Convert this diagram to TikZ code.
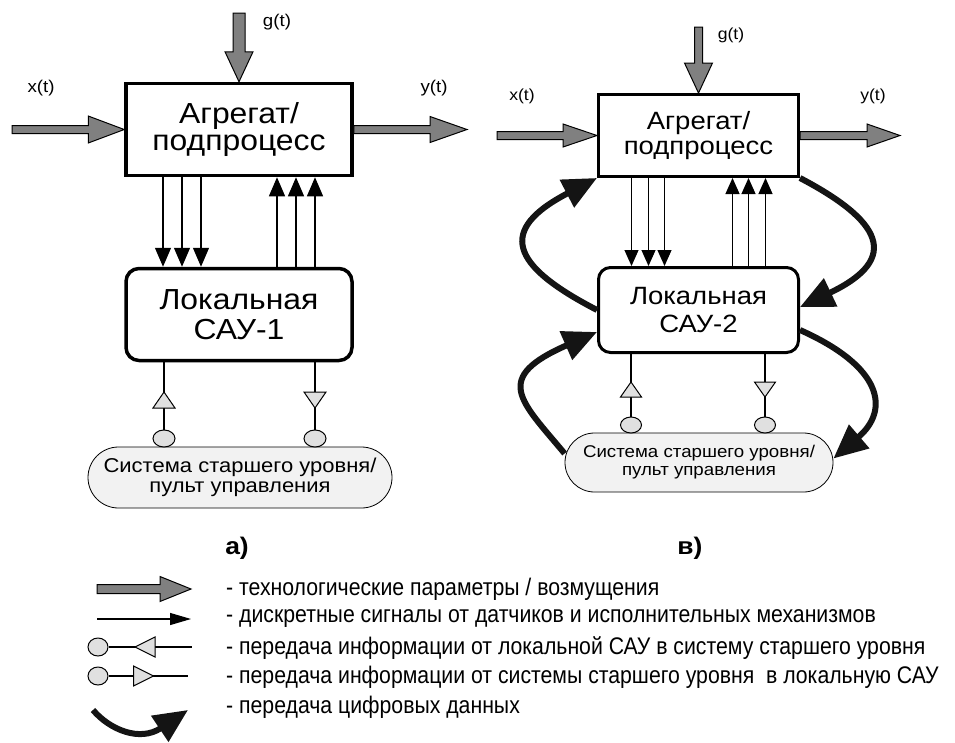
\documentclass[tikz,border=0pt]{standalone}
\usepackage{fontspec}
\setmainfont{Liberation Sans}[FakeStretch=1.1]
\newfontfamily\narrowfont{Liberation Sans}[FakeStretch=0.885]
\usetikzlibrary{arrows.meta,calc,shapes.geometric,shapes.misc}
\definecolor{bigfill}{HTML}{808080}
\definecolor{lightfill}{HTML}{E0E0E0}
\definecolor{sysfill}{HTML}{F2F2F2}
\definecolor{digcol}{HTML}{141414}
\tikzset{
  fatarrow/.style n args={3}{to path={
    ($(\tikztostart)!#1!90:(\tikztotarget)$)
    -- ($($(\tikztotarget)!#3!(\tikztostart)$)!#1!90:(\tikztotarget)$)
    -- ($($(\tikztotarget)!#3!(\tikztostart)$)!#2!90:(\tikztotarget)$)
    -- (\tikztotarget)
    -- ($($(\tikztotarget)!#3!(\tikztostart)$)!#2!-90:(\tikztotarget)$)
    -- ($($(\tikztotarget)!#3!(\tikztostart)$)!#1!-90:(\tikztotarget)$)
    -- ($(\tikztostart)!#1!-90:(\tikztotarget)$)
    -- cycle}},
  bigst/.style={draw=black, line width=1pt, fill=bigfill, line join=miter},
  boxA/.style={draw, line width=3.5pt, fill=white, inner sep=0pt, align=center,
    minimum width=226pt, minimum height=92pt, font=\fontsize{29}{27}\selectfont},
  boxB/.style={draw, line width=3pt, fill=white, inner sep=0pt, align=center,
    minimum width=200pt, minimum height=82pt, font=\fontsize{25}{25}\selectfont},
  sysst/.style={draw, line width=0.8pt, fill=sysfill, rounded rectangle, inner sep=0pt, align=center},
  dotst/.style={draw, line width=1pt, fill=lightfill, ellipse, inner sep=0pt},
  trist/.style={draw=black, line width=1pt, fill=lightfill, line join=miter},
  pics/tri/.style 2 args={code={\draw[trist] (0,-#2/2) -- (#1/2,#2/2) -- (-#1/2,#2/2) -- cycle;}},
  sigA/.style={line width=1.2pt, -{Triangle[width=16pt,length=19pt]}},
  sigB/.style={line width=1.1pt, -{Triangle[width=14pt,length=16pt]}},
  thinln/.style={line width=1.3pt},
  dig/.style={line width=6pt, draw=digcol, -{Triangle[width=30pt,length=34pt]}},
  lbl/.style={inner sep=0pt, font=\fontsize{17}{17}\selectfont},
  legtext/.style={anchor=west, inner sep=0pt, font=\narrowfont\fontsize{24}{24}\selectfont},
  caplbl/.style={inner sep=0pt, font=\bfseries\fontsize{24}{24}\selectfont}
}
\begin{document}
\begin{tikzpicture}[x=1pt,y=-1pt]
\useasboundingbox (0,0) rectangle (955,742);

% ---------------- panel a ----------------
\node[boxA] (agg1) at (239,129.5) {Агрегат/\\подпроцесс};
\node[boxA, rounded corners=13pt, font=\fontsize{29}{30}\selectfont] (loc1) at (239,314.5) {Локальная\\САУ-1};
\node[sysst, minimum width=304pt, minimum height=61pt, font=\fontsize{20}{20}\selectfont] (sys1) at (240,477.5) {Система старшего уровня/\\пульт управления};
\node[dotst, minimum width=22pt, minimum height=17pt] (c1L) at (164,438.5) {};
\node[dotst, minimum width=22pt, minimum height=17pt] (c1R) at (315,438.5) {};

\coordinate (xs1) at (12,129.5);
\coordinate (gs1) at (239,13);
\coordinate (ye1) at (467,129.5);
\draw[bigst] (xs1) to[fatarrow={4pt}{13.5pt}{36pt}] (agg1.west);
\draw[bigst] (gs1) to[fatarrow={6pt}{14pt}{30pt}] (agg1.north);
\draw[bigst] (agg1.east) to[fatarrow={4pt}{13pt}{37pt}] (ye1);
\node[lbl] (xl1) at (41,88) {x(t)};
\node[lbl] (gl1) at (277,22) {g(t)};
\node[lbl] (yl1) at (434,88) {y(t)};

\foreach \dx/\nm in {-76/a,-57/b,-38/c}{
  \coordinate (d1\nm) at ($(agg1.south)+(\dx,0)$);
  \draw[sigA] (d1\nm) -- (d1\nm |- loc1.north);
}
\foreach \dx/\nm in {38/a,57/b,76/c}{
  \coordinate (u1\nm) at ($(loc1.north)+(\dx,0)$);
  \draw[sigA] (u1\nm) -- (u1\nm |- agg1.south);
}
\draw[thinln] (c1L.north) -- (c1L.north |- loc1.south);
\draw[thinln] (c1R.north) -- (c1R.north |- loc1.south);
\pic at (164,400) {tri={22}{16}};
\pic[rotate=180] at (315,400) {tri={22}{16}};
\node[caplbl] (capa) at (237,548) {а)};

% ---------------- panel b ----------------
\node[boxB] (agg2) at (698.5,135.5) {Агрегат/\\подпроцесс};
\node[boxB, rounded corners=12pt, minimum height=85pt, font=\fontsize{25}{28}\selectfont] (loc2) at (698.5,310) {Локальная\\САУ-2};
\node[sysst, minimum width=268pt, minimum height=59pt, font=\fontsize{17}{18}\selectfont] (sys2) at (699,462.5) {Система старшего уровня/\\пульт управления};
\node[dotst, minimum width=21pt, minimum height=16pt] (c2L) at (631,425) {};
\node[dotst, minimum width=21pt, minimum height=16pt] (c2R) at (765,425) {};

\coordinate (xs2) at (497,135.5);
\coordinate (gs2) at (698.5,27);
\coordinate (ye2) at (900,135.5);
\draw[bigst] (xs2) to[fatarrow={4pt}{11.5pt}{34pt}] (agg2.west);
\draw[bigst] (gs2) to[fatarrow={4pt}{14pt}{30pt}] (agg2.north);
\draw[bigst] (agg2.east) to[fatarrow={4pt}{11.5pt}{33pt}] (ye2);
\node[lbl, font=\fontsize{16}{16}\selectfont] (xl2) at (522,96) {x(t)};
\node[lbl, font=\fontsize{16}{16}\selectfont] (gl2) at (731,35) {g(t)};
\node[lbl, font=\fontsize{16}{16}\selectfont] (yl2) at (873,96) {y(t)};

\foreach \dx/\nm in {-67/a,-50/b,-34/c}{
  \coordinate (d2\nm) at ($(agg2.south)+(\dx,0)$);
  \draw[sigB] (d2\nm) -- (d2\nm |- loc2.north);
}
\foreach \dx/\nm in {34/a,50/b,67/c}{
  \coordinate (u2\nm) at ($(loc2.north)+(\dx,0)$);
  \draw[sigB] (u2\nm) -- (u2\nm |- agg2.south);
}
\draw[thinln] (c2L.north) -- (c2L.north |- loc2.south);
\draw[thinln] (c2R.north) -- (c2R.north |- loc2.south);
\pic at (631,389.5) {tri={21}{15}};
\pic[rotate=180] at (765,389.5) {tri={21}{15}};

\draw[dig] (loc2.west) .. controls (510,265) and (497,230) .. (agg2.south west);
\draw[dig] ([yshift=9pt]sys2.west) .. controls (520,400) and (492,378) .. ([yshift=-22pt]loc2.west);
\draw[dig] (agg2.south east) .. controls (880,220) and (903,258) .. ([yshift=3pt]loc2.east);
\draw[dig] ([yshift=-20pt]loc2.east) .. controls (883,367) and (890,410) .. ([yshift=4pt]sys2.east);
\node[caplbl] (capb) at (690,548) {в)};

% ---------------- legend ----------------
\coordinate (l1a) at (97,589);  \coordinate (l1b) at (191,589);
\coordinate (l2a) at (97,619);  \coordinate (l2b) at (191,619);
\coordinate (l3b) at (192,647);
\coordinate (l4b) at (188,676);
\coordinate (l5a) at (93,710);  \coordinate (l5b) at (188,710);
\draw[bigst] (l1a) to[fatarrow={4.5pt}{12.5pt}{31pt}] (l1b);
\draw[line width=1.2pt, -{Triangle[width=12pt,length=21pt]}] (l2a) -- (l2b);
\node[dotst, minimum width=20pt, minimum height=18pt] (lc3) at (98,647) {};
\node[dotst, minimum width=20pt, minimum height=18pt] (lc4) at (98,676) {};
\draw[thinln] (lc3.east) -- (l3b);
\draw[thinln] (lc4.east) -- (l4b);
\pic[rotate=90] at (145,647) {tri={20}{20}};
\pic[rotate=-90] at (143.5,676) {tri={20}{20}};
\draw[dig] (l5a) .. controls (110,730) and (140,742) .. (l5b);

\node[legtext] (t1) at (226,589) {- технологические параметры / возмущения};
\node[legtext] (t2) at (226,619) {- дискретные сигналы от датчиков и исполнительных механизмов};
\node[legtext] (t3) at (226,648) {- передача информации от локальной САУ в систему старшего уровня};
\node[legtext] (t4) at (226,677) {- передача информации от системы старшего уровня\ \ в локальную САУ};
\node[legtext] (t5) at (226,707) {- передача цифровых данных};
\end{tikzpicture}
\end{document}
